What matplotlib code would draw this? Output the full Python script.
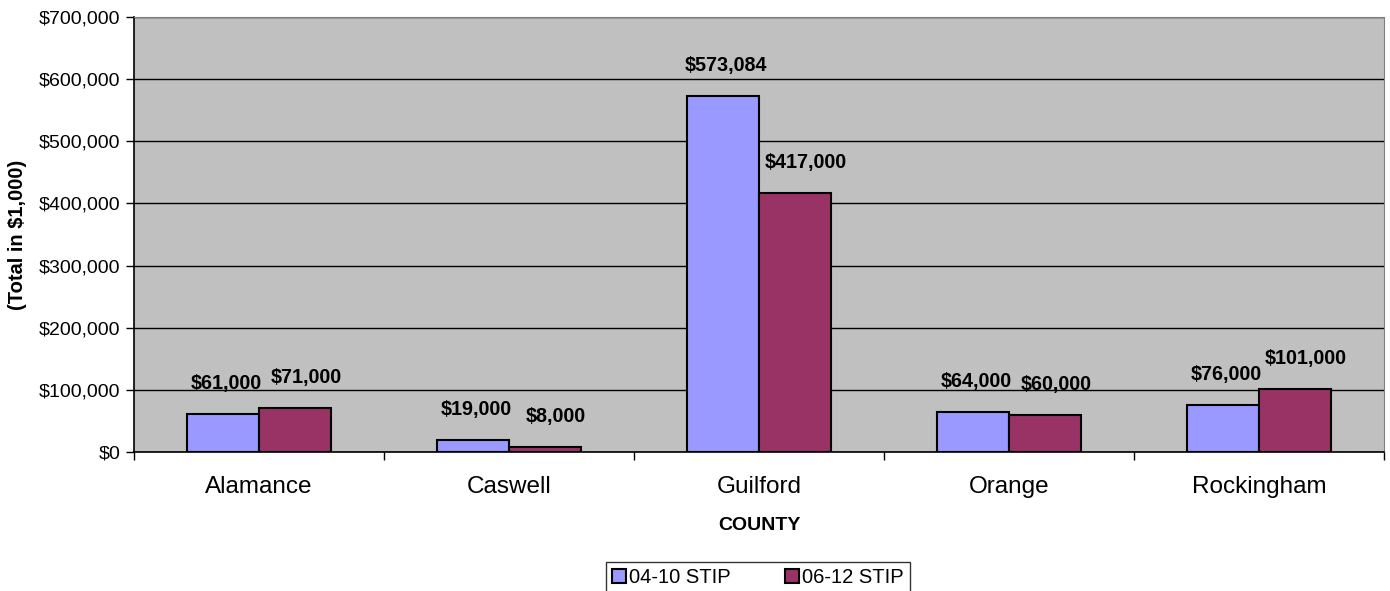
import matplotlib
matplotlib.use('Agg')
import matplotlib.pyplot as plt
import matplotlib.ticker as ticker
import numpy as np

counties = ['Alamance', 'Caswell', 'Guilford', 'Orange', 'Rockingham']
stip_04_10 = [61000, 19000, 573084, 64000, 76000]
stip_06_12 = [71000, 8000, 417000, 60000, 101000]
series_names = ['04-10 STIP', '06-12 STIP']

plt.rcParams['font.family'] = ['Liberation Sans', 'DejaVu Sans']

fig = plt.figure(figsize=(13.9, 5.91), dpi=100)
ax = fig.add_axes([134 / 1390, 1 - 452 / 591, 1250 / 1390, 435 / 591])
ax.set_facecolor('#C0C0C0')

x = np.arange(len(counties))
w = 0.288
b1 = ax.bar(x - w / 2, stip_04_10, w, color='#9999FF', edgecolor='black', lw=1.5, zorder=3, label=series_names[0])
b2 = ax.bar(x + w / 2, stip_06_12, w, color='#993366', edgecolor='black', lw=1.5, zorder=3, label=series_names[1])

# labels of the second series sit a bit to the right, as Excel nudges them
for bars, vals, dx in ((b1, stip_04_10, 2), (b2, stip_06_12, 8)):
    for r, v in zip(bars, vals):
        ax.annotate('${:,.0f}'.format(v), (r.get_x() + r.get_width() / 2, v),
                    xytext=(dx, 22), textcoords='offset points',
                    ha='center', va='center', fontsize=14.2, fontweight='bold')

ax.set_ylim(0, 700000)
ax.set_xlim(-0.5, len(counties) - 0.5)
ax.yaxis.set_major_locator(ticker.MultipleLocator(100000))
ax.yaxis.set_major_formatter(ticker.FuncFormatter(lambda v, p: '${:,.0f}'.format(v)))
ax.grid(axis='y', color='black', lw=1, zorder=0)

ax.set_xticks(x)
ax.set_xticklabels(counties, fontsize=17.5)
ax.xaxis.set_minor_locator(ticker.FixedLocator(np.arange(-0.5, len(counties), 1)))
ax.tick_params(axis='x', which='major', length=0, pad=17)
ax.tick_params(axis='x', which='minor', length=6, width=1, direction='out')
ax.tick_params(axis='y', length=6, width=1, direction='out', labelsize=14, pad=4)

for s in ['top', 'right']:
    ax.spines[s].set_color('#808080')
for s in ['left', 'bottom']:
    ax.spines[s].set_color('black')
    ax.spines[s].set_linewidth(1.2)

ax.set_ylabel('(Total in $1,000)', fontsize=14.5, fontweight='bold', labelpad=8)
ax.set_xlabel('COUNTY', fontsize=14, fontweight='bold', labelpad=14)

leg = fig.legend(loc='upper center', bbox_to_anchor=(758 / 1390, 1 - 562 / 591), ncol=2,
                 fontsize=14.5, frameon=True, fancybox=False, edgecolor='black',
                 handlelength=0.7, handleheight=0.7, handletextpad=0.15,
                 columnspacing=2.7, borderpad=0.3, borderaxespad=0)
leg.get_frame().set_linewidth(1)

plt.savefig('out.png', dpi=100)
